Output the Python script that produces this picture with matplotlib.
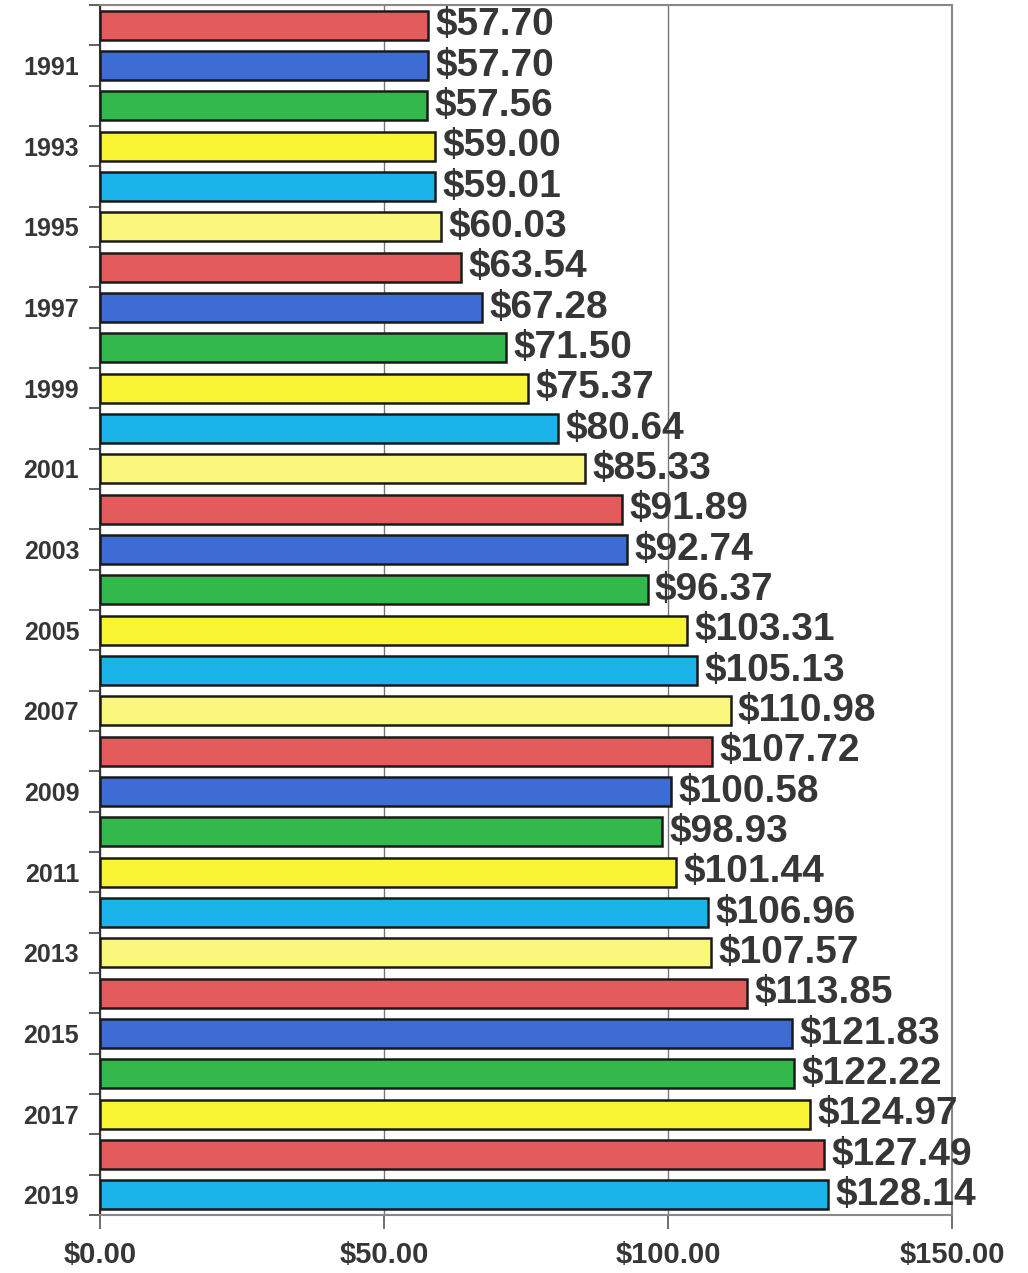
import matplotlib.pyplot as plt
import numpy as np

plt.rcParams["font.family"] = ["Liberation Sans", "DejaVu Sans"]

# ── data ──────────────────────────────────────────────
years = list(range(1990, 2020))
values = [57.70, 57.70, 57.56, 59.00, 59.01, 60.03, 63.54, 67.28, 71.50, 75.37,
          80.64, 85.33, 91.89, 92.74, 96.37, 103.31, 105.13, 110.98, 107.72, 100.58,
          98.93, 101.44, 106.96, 107.57, 113.85, 121.83, 122.22, 124.97, 127.49, 128.14]

RED = "#e35b5b"
BLUE = "#3d6cd4"
GREEN = "#33b84c"
YELLOW = "#f9f535"
CYAN = "#1ab4ea"
PALE = "#fbf77c"
bar_colors = [RED, BLUE, GREEN, YELLOW, CYAN, PALE] * 4 + \
             [RED, BLUE, GREEN, YELLOW, RED, CYAN]

xticks = [0, 50, 100, 150]
xtick_labels = ["$0.00", "$50.00", "$100.00", "$150.00"]

TEXT = "#363636"

fig = plt.figure(figsize=(10.28, 12.73), dpi=100)
ax = fig.add_axes([0.0973, 0.0455, 0.829, 0.9505])

pos = np.arange(len(years))
ax.barh(pos, values, height=0.72, color=bar_colors, edgecolor="#1a1a1a",
        linewidth=1.8, zorder=3)

for p, v in zip(pos, values):
    ax.text(v + 1.3, p, f"${v:.2f}", ha="left", va="center", fontsize=28,
            fontweight="bold", color=TEXT, zorder=4)

ax.set_xlim(0, 150)
ax.set_ylim(len(years) - 0.5, -0.5)

# x axis
ax.set_xticks(xticks)
ax.set_xticklabels(xtick_labels, fontsize=21, fontweight="bold", color=TEXT)
ax.tick_params(axis="x", length=10, width=1.2, color="#555555", pad=9)
ax.grid(axis="x", color="#777777", linewidth=1.0, zorder=0)

# y axis: labels on odd years, ticks at category boundaries
odd = [i for i, y in enumerate(years) if y % 2 == 1]
ax.set_yticks(odd)
ax.set_yticklabels([str(years[i]) for i in odd], fontsize=18,
                   fontweight="bold", color=TEXT)
ax.set_yticks(np.arange(-0.5, len(years), 1.0), minor=True)
ax.tick_params(axis="y", which="major", length=0, pad=15)
ax.tick_params(axis="y", which="minor", length=8, width=1.2, color="#444444")

for side in ["top", "right", "bottom"]:
    ax.spines[side].set_color("#888888")
    ax.spines[side].set_linewidth(1.5)
ax.spines["left"].set_color("#333333")
ax.spines["left"].set_linewidth(1.5)

fig.savefig("out.png", dpi=100, facecolor="white")
